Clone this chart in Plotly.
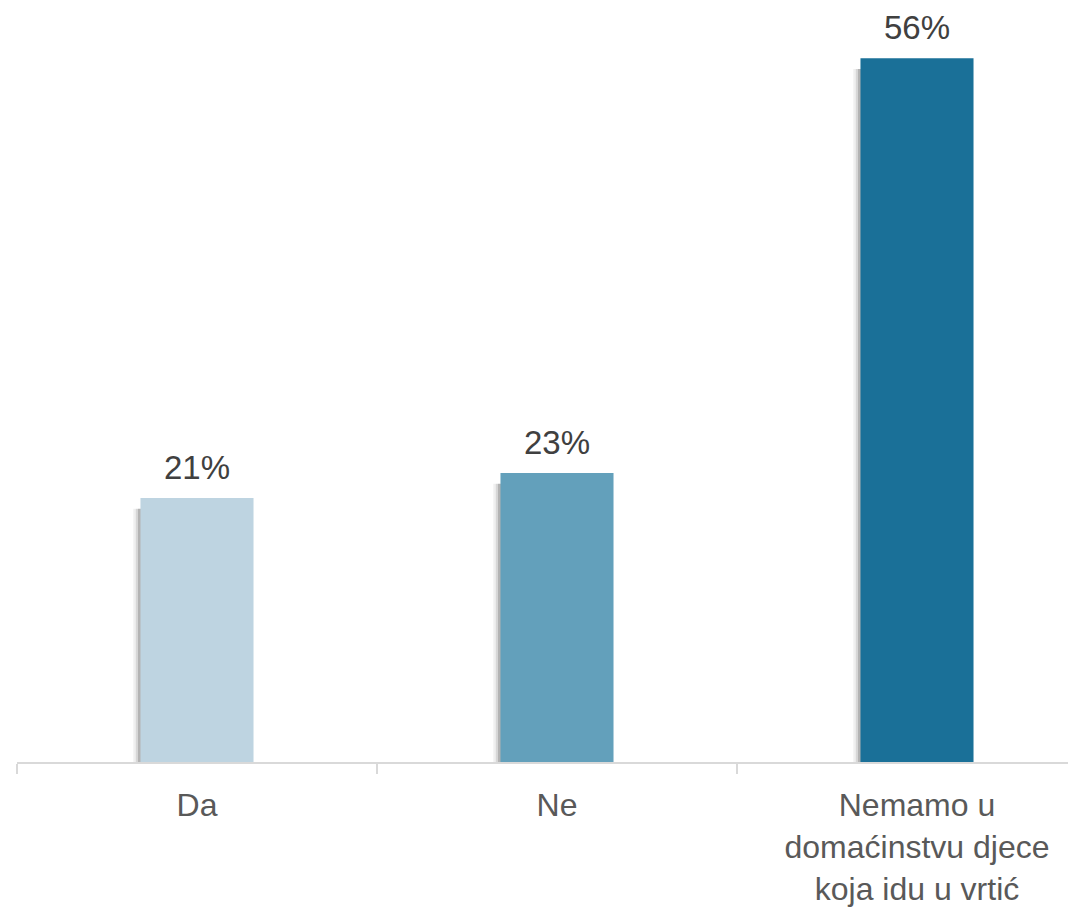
import plotly.graph_objects as go

categories = ["Da", "Ne", "Nemamo u<br>domaćinstvu djece<br>koja idu u vrtić"]
values = [21, 23, 56]
labels = ["21%", "23%", "56%"]
colors = ["#bed4e1", "#63a0bb", "#1a7098"]

fig = go.Figure()

# soft shadow layers behind bars
bar_w = 0.314
for shift, alpha in [(0.020, 0.06), (0.013, 0.10), (0.007, 0.16)]:
    fig.add_trace(go.Bar(
        x=categories, y=[v - 0.6 for v in values], base=[-0.25] * len(values),
        width=bar_w, offset=-bar_w / 2 - shift,
        marker=dict(color=f"rgba(0,0,0,{alpha})", line=dict(width=0)),
        hoverinfo="skip", showlegend=False,
    ))

fig.add_trace(go.Bar(
    x=categories, y=values, width=bar_w,
    marker=dict(color=colors, line=dict(width=0)),
    showlegend=False,
))

for c, v, t in zip(categories, values, labels):
    fig.add_annotation(
        x=c, y=v, text=t, showarrow=False, yanchor="bottom", yshift=11,
        borderpad=0,
        font=dict(family="Liberation Sans, Arial, sans-serif", size=33, color="#404040"),
    )

fig.update_layout(
    width=1076, height=910,
    margin=dict(l=9, r=0, t=0, b=156),
    plot_bgcolor="white", paper_bgcolor="white",
    barmode="overlay",
    font=dict(family="Liberation Sans, Arial, sans-serif", size=32, color="#595959"),
    xaxis=dict(
        range=[-0.5, 2.4639], showline=True, linecolor="#d9d9d9", linewidth=2,
        ticks="outside", tickson="boundaries", ticklen=10, tickcolor="#d9d9d9", tickwidth=2,
        ticklabelstandoff=14,
        tickfont=dict(size=32, color="#595959"), showgrid=False, zeroline=False,
    ),
    yaxis=dict(range=[0, 60], visible=False, showgrid=False, zeroline=False),
)

fig.write_html("out.html")
